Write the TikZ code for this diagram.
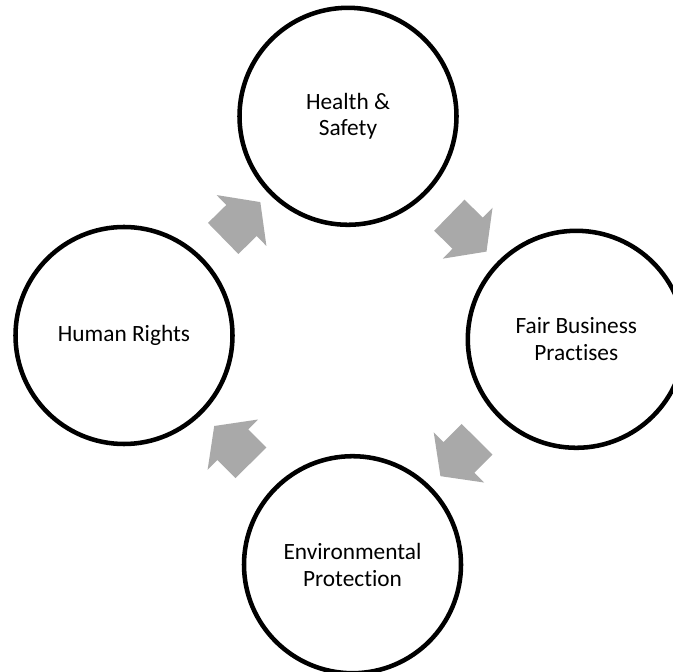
\documentclass[tikz,border=0pt]{standalone}
\usepackage{fontspec}
\setmainfont{Carlito}[Ligatures=NoCommon]
\usepackage{tikz}
\usetikzlibrary{shapes.arrows}

\tikzset{
topic/.style={draw, circle, line width=3.4pt, minimum size=162.75pt, inner sep=0pt, align=center, font=\fontsize{17.5}{20}\selectfont},
cyclearrow/.style={single arrow, draw=none, fill={rgb, 255:red, 169; green, 169; blue, 169 }, minimum height=39pt, minimum width=53pt, single arrow head extend=10.4pt, single arrow tip angle=107, inner xsep=0pt, inner ysep=16.1pt, sloped, allow upside down}
}

\begin{document}
\begin{tikzpicture}[x=0.75pt,y=0.75pt]
\clip (0,0) rectangle (673,671);

%Shape: Circle [Health & Safety]
\node [topic] (hs) at (348,554.7) {Health \&\\Safety};
%Shape: Circle [Fair Business Practises]
\node [topic] (fbp) at (576.3,331.7) {Fair Business\\Practises};
%Shape: Circle [Environmental Protection]
\node [topic] (ep) at (352.5,106.3) {Environmental\\Protection};
%Shape: Circle [Human Rights]
\node [topic] (hr) at (124,335.5) {Human Rights};

%Block Arrows
\path (hr) -- node [cyclearrow] (hr2hs) {} (hs);
\path (hs) -- node [cyclearrow] (hs2fbp) {} (fbp);
\path (fbp) -- node [cyclearrow] (fbp2ep) {} (ep);
\path (ep) -- node [cyclearrow] (ep2hr) {} (hr);

\end{tikzpicture}
\end{document}
